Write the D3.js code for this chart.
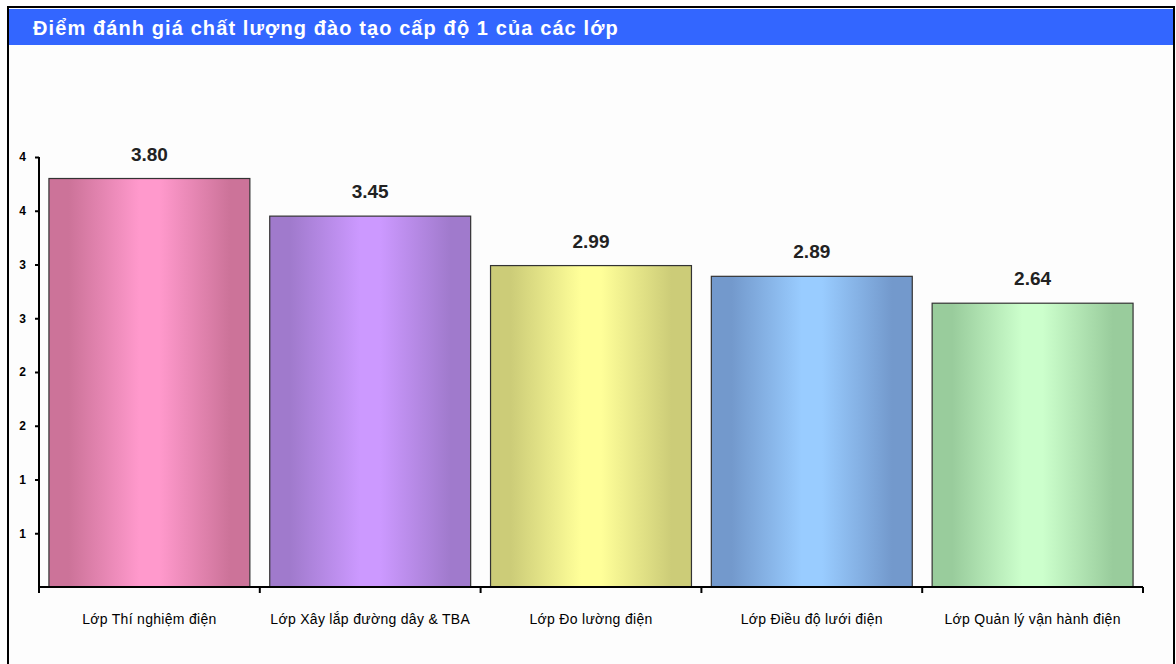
<!DOCTYPE html>
<html>
<head>
<meta charset="utf-8">
<script src="https://cdn.jsdelivr.net/npm/d3@7"></script>
<style>
  body { margin: 0; background: #fff; }
  svg { display: block; }
</style>
</head>
<body>
<div id="chart"></div>
<script>
// Chart data
const title = "Điểm đánh giá chất lượng đào tạo cấp độ 1 của các lớp";
const categories = [
    "Lớp Thí nghiệm điện",
    "Lớp Xây lắp đường dây & TBA",
    "Lớp Đo lường điện",
    "Lớp Điều độ lưới điện",
    "Lớp Quản lý vận hành điện"
];
const scores = [3.80, 3.45, 2.99, 2.89, 2.64];
const yTicks = [0.5, 1, 1.5, 2, 2.5, 3, 3.5, 4];
const edgeColors = ["#cc7399", "#a07acc", "#cccc78", "#7399cc", "#99cc9c"];
const centerColors = ["#ff99cc", "#cc99ff", "#ffff99", "#99ccff", "#ccffcc"];

const W = 1176, H = 664;
const font = "'Liberation Sans', Arial, sans-serif";
const svg = d3.select("#chart").append("svg")
    .attr("width", W)
    .attr("height", H);

// Frame and title bar
svg.append("rect")
    .attr("x", 8).attr("y", 7)
    .attr("width", 1166).attr("height", 670)
    .attr("fill", "#fdfdfd")
    .attr("stroke", "#000")
    .attr("stroke-width", 2);

svg.append("rect")
    .attr("x", 9).attr("y", 9)
    .attr("width", 1164).attr("height", 36)
    .attr("fill", "#3366ff");

svg.append("text")
    .attr("x", 33).attr("y", 35)
    .attr("fill", "#fff")
    .style("font-family", font)
    .style("font-weight", "bold")
    .style("font-size", "20px")
    .style("letter-spacing", "1.1px")
    .text(title);

// Scales
const plot = { left: 39, right: 1143, top: 157, bottom: 587 };

const x = d3.scaleBand()
    .domain(categories)
    .range([plot.left, plot.right])
    .paddingInner(0.09)
    .paddingOuter(0.045);

const xCat = d3.scaleBand()
    .domain(categories)
    .range([plot.left, plot.right])
    .padding(0);

const y = d3.scaleLinear()
    .domain([0, 4])
    .range([plot.bottom, plot.top]);

// Gradients
const defs = svg.append("defs");
categories.forEach((c, i) => {
    const g = defs.append("linearGradient")
        .attr("id", "grad" + i)
        .attr("x1", "0%").attr("x2", "100%")
        .attr("y1", "0%").attr("y2", "0%");
    [[0, edgeColors[i]], [0.1, edgeColors[i]], [0.45, centerColors[i]],
     [0.55, centerColors[i]], [0.9, edgeColors[i]], [1, edgeColors[i]]]
        .forEach(([o, col]) => g.append("stop").attr("offset", o).attr("stop-color", col));
});

// Bars
svg.selectAll(".bar")
    .data(scores)
    .enter()
    .append("rect")
    .attr("class", "bar")
    .attr("x", (d, i) => x(categories[i]))
    .attr("width", x.bandwidth())
    .attr("y", d => y(d))
    .attr("height", d => y(0) - y(d))
    .attr("fill", (d, i) => `url(#grad${i})`)
    .attr("stroke", "#333")
    .attr("stroke-width", 1.2);

// Value labels
svg.selectAll(".val")
    .data(scores)
    .enter()
    .append("text")
    .attr("class", "val")
    .attr("x", (d, i) => x(categories[i]) + x.bandwidth() / 2)
    .attr("y", d => y(d) - 18)
    .attr("text-anchor", "middle")
    .style("font-family", font)
    .style("font-weight", "bold")
    .style("font-size", "19px")
    .attr("fill", "#222")
    .text(d => d.toFixed(2));

// Y axis
const yAxis = svg.append("g")
    .attr("transform", `translate(${plot.left},0)`)
    .call(d3.axisLeft(y).tickValues(yTicks).tickSize(4).tickFormat(d3.format(".0f")));
yAxis.select(".domain").attr("stroke", "#000").attr("stroke-width", 2).attr("d", `M0,${plot.top}V${plot.bottom}`);
yAxis.selectAll(".tick line").attr("stroke", "#000").attr("stroke-width", 2);
yAxis.selectAll(".tick text")
    .attr("x", -13)
    .style("font-family", font)
    .style("font-weight", "bold")
    .style("font-size", "12px")
    .attr("fill", "#000");

// X axis
const xAxis = svg.append("g")
    .attr("transform", `translate(0,${plot.bottom})`)
    .call(d3.axisBottom(xCat).tickSize(0).tickPadding(27));
xAxis.select(".domain").attr("stroke", "#000").attr("stroke-width", 2)
    .attr("d", `M${plot.left},0H${plot.right}`);
xAxis.selectAll(".tick text")
    .style("font-family", font)
    .style("font-size", "14px")
    .style("letter-spacing", "0.3px")
    .attr("fill", "#000");

// Category boundary ticks
xAxis.selectAll(".sep")
    .data(categories.concat([null]))
    .enter()
    .append("line")
    .attr("class", "sep")
    .attr("x1", (d, i) => i < categories.length ? xCat(d) : plot.right)
    .attr("x2", (d, i) => i < categories.length ? xCat(d) : plot.right)
    .attr("y1", 0).attr("y2", 6)
    .attr("stroke", "#000")
    .attr("stroke-width", 2);
</script>
</body>
</html>
